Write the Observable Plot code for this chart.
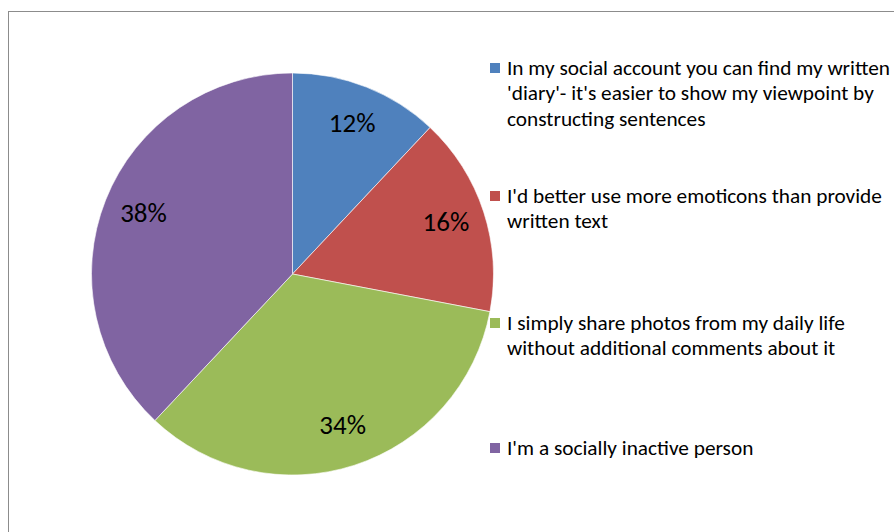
<!DOCTYPE html>
<html><head><meta charset="utf-8">
<script src="https://cdn.jsdelivr.net/npm/d3@7"></script>
<script src="https://cdn.jsdelivr.net/npm/@observablehq/plot@0.6"></script>
<style>
html,body{margin:0;padding:0;background:#fff;overflow:hidden;width:894px;height:532px}
#wrap{position:relative;width:894px;height:532px;overflow:hidden}
#border{position:absolute;left:8px;top:11px;width:1000px;height:1000px;border:1.5px solid #8c8c8c;box-sizing:border-box}
#chart{position:absolute;left:0;top:0}
.item{position:absolute;left:490px;font-family:Carlito,Calibri,Lato,sans-serif;font-size:21.3px;line-height:25.5px;color:#000;white-space:pre}
.sq{position:absolute;left:0;top:7px;width:10px;height:10px}
.txt{position:absolute;left:17px;top:0}
</style></head>
<body><div id="wrap"><div id="border"></div><div id="chart"></div></div>
<script>
const categories = [
  "In my social account you can find my written\n'diary'- it's easier to show my viewpoint by\nconstructing sentences",
  "I'd better use more emoticons than provide\nwritten text",
  "I simply share photos from my daily life\nwithout additional comments about it",
  "I'm a socially inactive person"
];
const values = [12, 16, 34, 38];
const valueLabels = ["12%", "16%", "34%", "38%"];
const colors = ["#4F81BD", "#C0504D", "#9BBB59", "#8064A2"];

const data = categories.map((c, i) => ({category: c, value: values[i], label: valueLabels[i], color: colors[i]}));
const arcs = d3.pie().value(d => d.value).sort(null)(data);
const labelR = 0.8;
arcs.forEach(a => { const m = (a.startAngle + a.endAngle) / 2; a.lx = labelR * Math.sin(m); a.ly = labelR * Math.cos(m); });

const cx = 292.5, cy = 274, R = 201;
const chart = Plot.plot({
  width: 894, height: 532, margin: 0,
  style: {background: "transparent", overflow: "visible"},
  x: {domain: [-1, 1], range: [cx - R, cx + R], axis: null},
  y: {domain: [-1, 1], range: [cy + R, cy - R], axis: null},
  marks: [
    (index, scales) => {
      const g = d3.create("svg:g");
      const x0 = scales.x(0), y0 = scales.y(0), r = scales.x(1) - scales.x(0);
      const arc = d3.arc().innerRadius(0).outerRadius(r);
      g.selectAll("path").data(arcs).join("path")
        .attr("transform", `translate(${x0},${y0})`)
        .attr("d", arc)
        .attr("fill", d => d.data.color)
        .attr("stroke", "#fff").attr("stroke-width", 0.6);
      return g.node();
    },
    Plot.text(arcs, {x: "lx", y: "ly", text: d => d.data.label, fontSize: 27, fill: "#000", dy: -2,
      fontFamily: "Carlito, Calibri, Lato, sans-serif"})
  ]
});
document.getElementById("chart").appendChild(chart);

const legendTops = [55.5, 183.5, 310.5, 435.5];
const wrap = document.getElementById("wrap");
data.forEach((d, i) => {
  const it = document.createElement("div");
  it.className = "item"; it.style.top = legendTops[i] + "px";
  const sq = document.createElement("div"); sq.className = "sq"; sq.style.background = d.color;
  const tx = document.createElement("div"); tx.className = "txt"; tx.textContent = d.category;
  it.appendChild(sq); it.appendChild(tx); wrap.appendChild(it);
});
</script></body></html>
